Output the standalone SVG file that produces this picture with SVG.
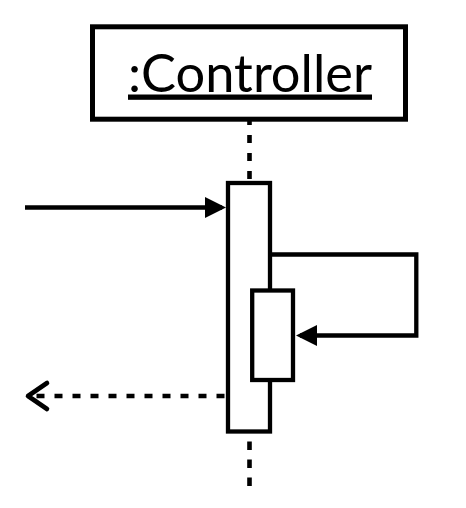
<svg xmlns="http://www.w3.org/2000/svg" width="466" height="508" viewBox="0 0 466 508">
  <style>
    .box { fill: #ffffff; stroke: #000000; }
    .label { font-family: "Lato", "Liberation Sans", sans-serif; font-size: 53px; fill: #000000; text-decoration: underline; }
    .msg { fill: none; stroke: #000000; stroke-width: 4.3; }
    .dash { fill: none; stroke: #000000; stroke-width: 4.6; stroke-dasharray: 8 10; }
  </style>
  <defs>
    <marker id="solidHead" viewBox="0 0 21 21" refX="17" refY="10.5" markerWidth="21" markerHeight="21" markerUnits="userSpaceOnUse" orient="auto">
      <path d="M0,0 L21,10.5 L0,21 Z" fill="#000000"/>
    </marker>
    <marker id="openHead" viewBox="-26 -18 30 36" refX="0" refY="0" markerWidth="30" markerHeight="36" markerUnits="userSpaceOnUse" orient="auto">
      <polyline points="-19,-13 0,0 -19,13" fill="none" stroke="#000000" stroke-width="4.6" stroke-linejoin="round" stroke-linecap="round"/>
    </marker>
  </defs>
  <rect width="466" height="508" fill="#ffffff"/>

  <g id="connectors">
    <path id="lifeline-top" class="dash" d="M249.5,117 V181"/>
    <path id="lifeline-bottom" class="dash" style="stroke-dasharray: 8.5 9.5" d="M249.5,441.5 V487"/>
    <path id="msg-call" class="msg" d="M25,207.5 H222" marker-end="url(#solidHead)"/>
    <path id="msg-return" class="dash" d="M224.5,396 H28" marker-end="url(#openHead)"/>
  </g>

  <g id="controller">
    <rect class="box" x="92.5" y="26.8" width="313" height="92.4" stroke-width="5"/>
    <text class="label" x="128" y="91.5" textLength="244" lengthAdjust="spacingAndGlyphs">:Controller</text>
  </g>

  <g id="activation-main">
    <rect class="box" x="228" y="183" width="42" height="248.5" stroke-width="4.3"/>
  </g>

  <g id="self-call-connector">
    <path class="msg" d="M270,254.5 H416.3 V335.5 H300" marker-end="url(#solidHead)"/>
  </g>

  <g id="activation-nested">
    <rect class="box" x="252.2" y="290.5" width="40.8" height="89.5" stroke-width="4.3"/>
  </g>
</svg>
